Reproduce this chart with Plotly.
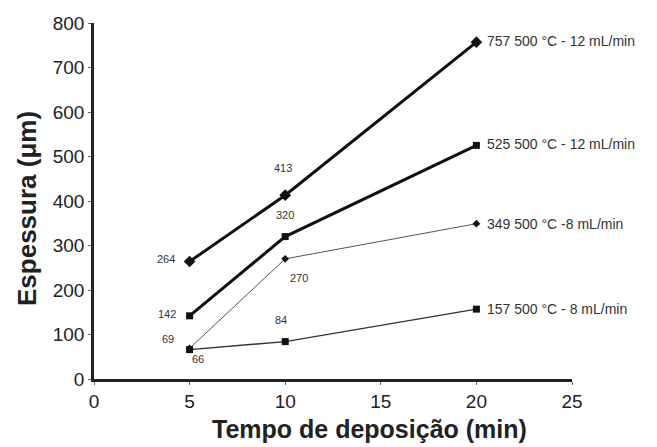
import plotly.graph_objects as go

tempo = [5, 10, 20]
s1_vals = [264, 413, 757]
s2_vals = [142, 320, 525]
s3_vals = [69, 270, 349]
s4_vals = [66, 84, 157]
s1_name = "500 °C - 12 mL/min"
s2_name = "500 °C - 12 mL/min"
s3_name = "500 °C -8 mL/min"
s4_name = "500 °C - 8 mL/min"
x_ticks = [0, 5, 10, 15, 20, 25]
y_ticks = [0, 100, 200, 300, 400, 500, 600, 700, 800]
x_title = "<b>Tempo de deposição (min)</b>"
y_title = "<b>Espessura (μm)</b>"

series = [
    (s1_vals, s1_name, "diamond", 3, 9, "#111111"),
    (s2_vals, s2_name, "square", 3, 7, "#111111"),
    (s3_vals, s3_name, "diamond", 1, 6, "#555555"),
    (s4_vals, s4_name, "square", 1.4, 7, "#333333"),
]

fig = go.Figure()
for vals, name, sym, w, ms, col in series:
    fig.add_trace(go.Scatter(x=tempo, y=vals, mode="lines+markers", name=name,
                             line=dict(color=col, width=w),
                             marker=dict(symbol=sym, size=ms, color="#111111")))

# (xshift, yshift, xanchor) for each point label
offsets = [
    [(-13, 3, "right"), (-2, 27, "center"), (9, 1, "left")],
    [(-12, 2, "right"), (0, 22, "center"), (9, 1, "left")],
    [(-14, 9, "right"), (14, -19, "center"), (9, 0, "left")],
    [(8, -9, "center"), (-4, 22, "center"), (9, 0, "left")],
]
anns = []
for (vals, name, sym, w, ms, col), offs in zip(series, offsets):
    for i, (xv, yv) in enumerate(zip(tempo, vals)):
        dx, dy, anc = offs[i]
        last = i == len(tempo) - 1
        txt = f"{yv} {name}" if last else str(yv)
        anns.append(dict(x=xv, y=yv, xref="x", yref="y", text=txt, showarrow=False,
                         xshift=dx, yshift=dy, xanchor=anc, yanchor="middle",
                         font=dict(size=14 if last else 11, color="#333333",
                                   family="Liberation Sans, Arial")))

# axis titles
anns.append(dict(x=0.5, y=0, xref="paper", yref="paper", text=x_title, showarrow=False,
                 xshift=36, yshift=-50, xanchor="center", yanchor="middle",
                 font=dict(size=25, color="#222222", family="Liberation Sans, Arial")))
anns.append(dict(x=0, y=0.5, xref="paper", yref="paper", text=y_title, showarrow=False,
                 textangle=-90, xshift=-67, yshift=-8, xanchor="center", yanchor="middle",
                 font=dict(size=26, color="#222222", family="Liberation Sans, Arial")))

fig.update_layout(
    width=657, height=447,
    margin=dict(l=86, r=93, t=15, b=76),
    plot_bgcolor="white", paper_bgcolor="white",
    showlegend=False,
    annotations=anns,
    font=dict(family="Liberation Sans, Arial", color="#222222"),
    xaxis=dict(range=[0, 25], tickvals=x_ticks, showgrid=False, zeroline=False,
               showline=True, linecolor="#222222", linewidth=2.5,
               ticks="outside", ticklen=3, tickcolor="#666666",
               tickfont=dict(size=19, color="#222222"), automargin=False),
    yaxis=dict(range=[0, 800], tickvals=y_ticks, showgrid=False, zeroline=False,
               showline=True, linecolor="#222222", linewidth=2.5,
               ticks="outside", ticklen=3, tickcolor="#666666",
               tickfont=dict(size=19, color="#222222"), automargin=False),
)
fig.write_html("out.html")
